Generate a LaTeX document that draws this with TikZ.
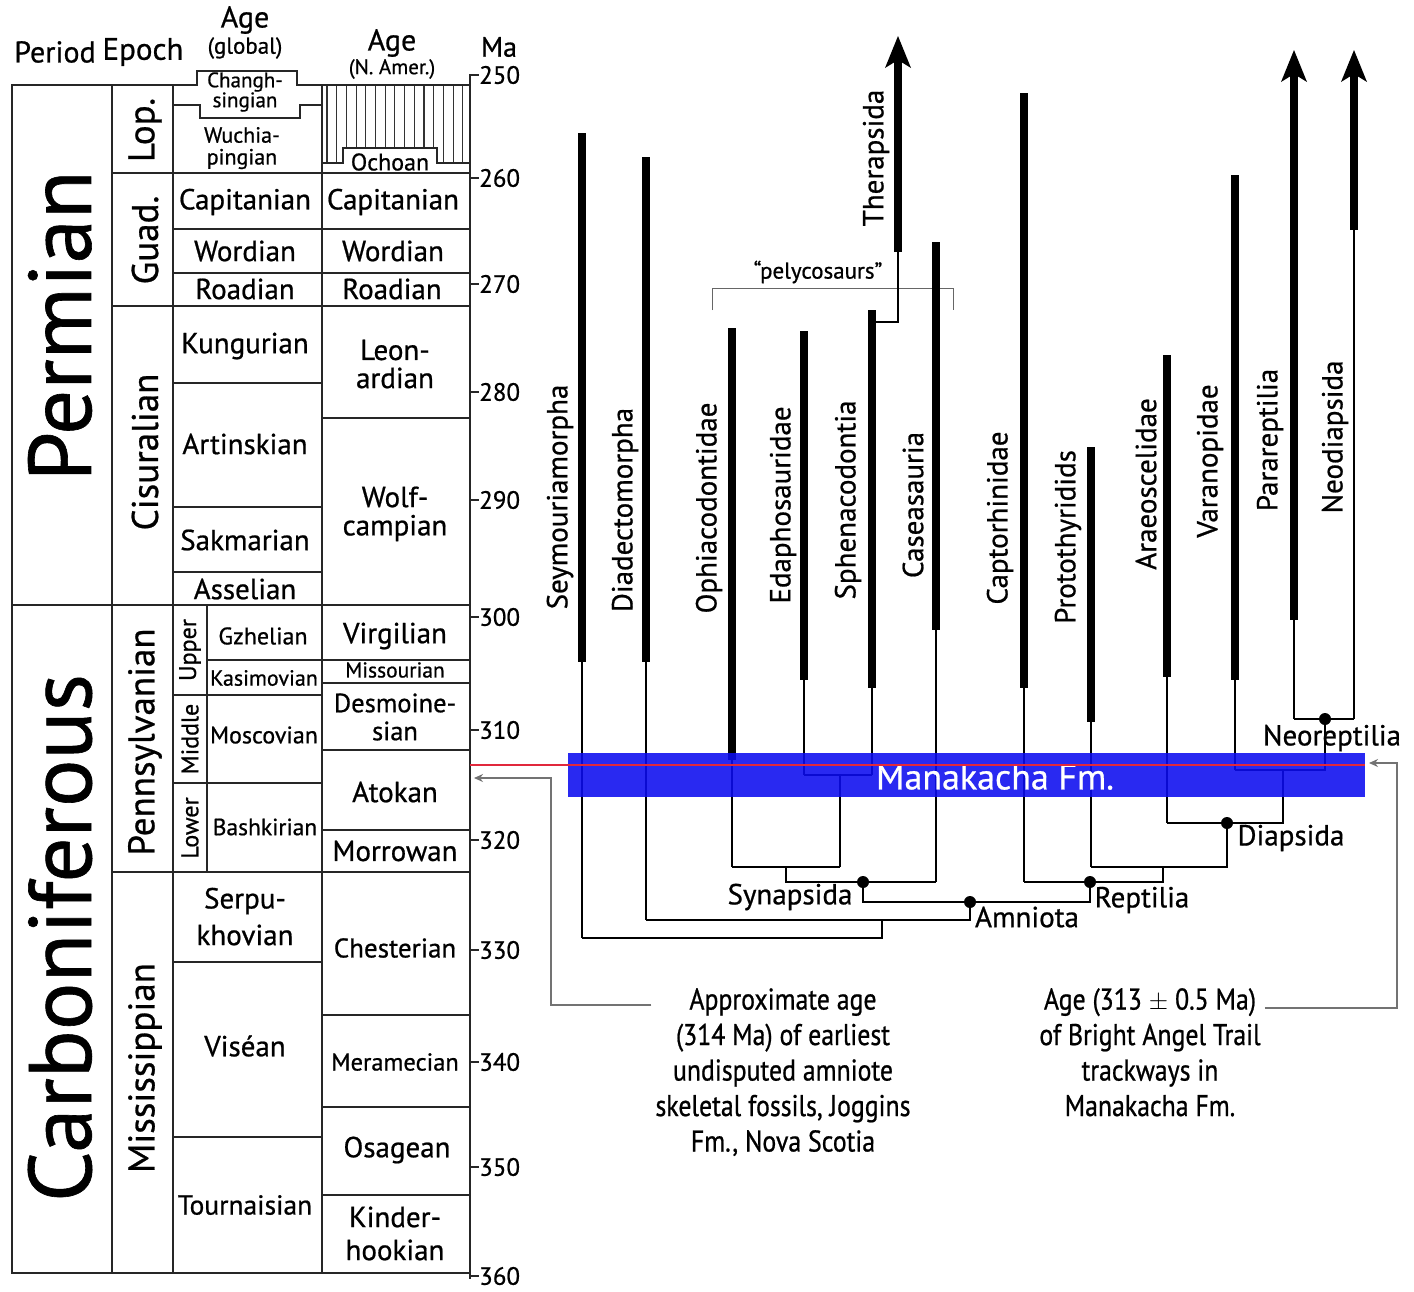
\documentclass[tikz,border=0pt]{standalone}
\usepackage{fontspec}
\setmainfont{PT Sans}[FakeBold=0.7]
\newfontfamily\cond{PT Sans}[FakeStretch=0.86,FakeBold=0.7]
\usetikzlibrary{arrows.meta}
\definecolor{bandblue}{RGB}{12,12,240}
\definecolor{redline}{RGB}{225,40,60}
\tikzset{
  tbl/.style={line width=1.8pt, black!85, line cap=rect},
  hatch/.style={line width=1.1pt, black!80},
  fs/.style={font=\fontsize{#1}{#1}\selectfont, inner sep=0pt},
  age/.style={fs=29},
  taxon/.style={fs=29, rotate=90},
  clade/.style={fs=29},
  bar/.style={line width=8pt, black},
  br/.style={line width=2.4pt, black},
  dot/.style={circle, fill=black, minimum size=12pt, inner sep=0pt},
  callout/.style={line width=1.3pt, black!55},
  note/.style={font=\cond\fontsize{30}{35.5}\selectfont, align=center, inner sep=0pt},
}
\newcommand{\arrowtip}[2]{\fill (#1,#2) -- (#1+13,#2+32) -- (#1,#2+24) -- (#1-13,#2+32) -- cycle;}
\begin{document}
\begin{tikzpicture}[x=1pt,y=-1pt]
\useasboundingbox[fill=white] (0,0) rectangle (1414,1291);

% ---------- headers ----------
\node[fs=30] (hper) at (55,52) {Period};
\node[fs=31] (hepo) at (143,52) {Epoch};
\node[fs=30] (hage1) at (245,20) {Age};
\node[fs=23] (hage1b) at (245,48) {(global)};
\node[fs=30] (hage2) at (392,43) {Age};
\node[fs=21] (hage2b) at (392,69) {(N. Amer.)};
\node[fs=28] (hma) at (499,47) {Ma};

% ---------- Ochoan hatching ----------
\foreach \i in {0,...,14}{
  \pgfmathsetmacro{\xx}{327+\i*9.7}
  \pgfmathsetmacro{\yb}{(\xx>343 && \xx<437) ? 148 : 163}
  \draw[hatch] (\xx,85) -- (\xx,\yb);
}
\draw[tbl] (322,163) -- (343,163) -- (343,148) -- (437,148) -- (437,163) -- (470,163);

% ---------- table frame ----------
\draw[tbl] (12,85) -- (12,1273) -- (470,1273);
\draw[tbl] (112,85) -- (112,1273);
\draw[tbl] (173,85) -- (173,1273);
\draw[tbl] (322,85) -- (322,1273);
\draw[tbl] (207,605) -- (207,872);
\draw[tbl] (470,77) -- (470,1278);
\draw[tbl] (12,85) -- (197,85) -- (197,71) -- (297,71) -- (297,85) -- (470,85);
\draw[tbl] (173,105) -- (200,105) -- (200,118) -- (300,118) -- (300,105) -- (322,105);
\draw[tbl] (12,605) -- (470,605);
\foreach \y in {173,306,872}{\draw[tbl] (112,\y) -- (470,\y);}
\foreach \y in {229,273}{\draw[tbl] (173,\y) -- (470,\y);}
\foreach \y in {383,507,572,695,783,962,1137}{\draw[tbl] (173,\y) -- (322,\y);}
\draw[tbl] (207,660) -- (470,660);
\foreach \y in {418,683,750,830,1015,1107,1195}{\draw[tbl] (322,\y) -- (470,\y);}

% ---------- Ma axis ----------
\foreach \v/\y in {250/75,260/178,270/284,280/392,290/500,300/617,310/730,320/840,330/950,340/1062,350/1167,360/1276}{
  \draw[tbl] (470,\y) -- (478,\y);
  \node[fs=25, anchor=west] at (479,\y) {\v};
}

% ---------- periods / epochs ----------
\node[fs=89, rotate=90] (perm) at (60,326) {Permian};
\node[fs=89, rotate=90] (carb) at (60,938) {Carboniferous};
\node[fs=37, rotate=90] (lop) at (145,130) {Lop.};
\node[fs=37, rotate=90] (guad) at (145,240) {Guad.};
\node[fs=37, rotate=90] (cis) at (145,452) {Cisuralian};
\node[fs=37, rotate=90] (penn) at (145,742) {Pennsylvanian};
\node[fs=37, rotate=90] (miss) at (145,1068) {Mississippian};
\node[fs=24, rotate=90] (upper) at (190,650) {Upper};
\node[fs=24, rotate=90] (middle) at (190,739) {Middle};
\node[fs=24, rotate=90] (lower) at (190,828) {Lower};

% ---------- global ages ----------
\node[fs=21] (chang1) at (245,82) {Changh-};
\node[fs=21] (chang2) at (245,102) {singian};
\node[fs=22] (wuch1) at (242,135) {Wuchia-};
\node[fs=22] (wuch2) at (242,159) {pingian};
\node[age] (capg) at (245,202) {Capitanian};
\node[age] (word) at (245,251) {Wordian};
\node[age] (road) at (245,289) {Roadian};
\node[age] (kung) at (245,346) {Kungurian};
\node[age] (arti) at (245,444) {Artinskian};
\node[age] (sakm) at (245,540) {Sakmarian};
\node[age] (asse) at (245,589) {Asselian};
\node[fs=24] (gzhe) at (263,636) {Gzhelian};
\node[fs=22] (kasi) at (264,678) {Kasimovian};
\node[fs=24] (mosc) at (264,735) {Moscovian};
\node[fs=23.5] (bash) at (265,827) {Bashkirian};
\node[age] (serp1) at (245,901) {Serpu-};
\node[age] (serp2) at (245,935) {khovian};
\node[age] (vise) at (245,1046) {Viséan};
\node[fs=27.5] (tour) at (245,1205) {Tournaisian};

% ---------- N. American ages ----------
\node[fs=24] (ocho) at (390,162) {Ochoan};
\node[age] (capn) at (393,202) {Capitanian};
\node[age] (wordn) at (393,251) {Wordian};
\node[age] (roadn) at (392,289) {Roadian};
\node[age] (leon1) at (395,350) {Leon-};
\node[age] (leon2) at (395,378) {ardian};
\node[age] (wolf1) at (395,497) {Wolf-};
\node[age] (wolf2) at (395,528) {campian};
\node[age] (virg) at (395,636) {Virgilian};
\node[fs=21.5] (miso) at (395,670) {Missourian};
\node[fs=26.5] (desm1) at (395,703) {Desmoine-};
\node[fs=26.5] (desm2) at (395,731) {sian};
\node[age] (atok) at (395,792) {Atokan};
\node[age] (morr) at (395,851) {Morrowan};
\node[fs=27] (ches) at (395,948) {Chesterian};
\node[fs=24.5] (mera) at (395,1062) {Meramecian};
\node[age] (osag) at (397,1150) {Osagean};
\node[age] (kind1) at (395,1217) {Kinder-};
\node[age] (kind2) at (395,1250) {hookian};

% ---------- pelycosaurs bracket ----------
\draw[line width=0.9pt, black!60] (712,310) -- (712,288) -- (953,288) -- (953,310);
\node[fs=23, fill=white, inner sep=2pt] (pely) at (818,272) {``pelycosaurs''};

% ---------- lineage bars ----------
\coordinate (sey) at (582,938);
\coordinate (dia) at (646,920);
\coordinate (oph) at (732,867);
\coordinate (eda) at (804,775);
\coordinate (sph) at (872,775);
\coordinate (cas) at (936,882);
\coordinate (cap) at (1024,882);
\coordinate (pro) at (1091,867);
\coordinate (ara) at (1167,823);
\coordinate (var) at (1235,770);
\coordinate (par) at (1294,719);
\coordinate (neo) at (1354,719);

\draw[bar] (582,133) -- (582,662);  \draw[br] (582,662) -- (sey);
\draw[bar] (646,157) -- (646,662);  \draw[br] (646,662) -- (dia);
\draw[bar] (732,328) -- (732,760);  \draw[br] (732,760) -- (oph);
\draw[bar] (804,331) -- (804,680);  \draw[br] (804,680) -- (eda);
\draw[bar] (872,310) -- (872,688);  \draw[br] (872,688) -- (sph);
\draw[bar] (936,242) -- (936,630);  \draw[br] (936,630) -- (cas);
\draw[bar] (1024,93) -- (1024,688); \draw[br] (1024,688) -- (cap);
\draw[bar] (1091,447) -- (1091,722); \draw[br] (1091,722) -- (pro);
\draw[bar] (1167,355) -- (1167,677); \draw[br] (1167,677) -- (ara);
\draw[bar] (1235,175) -- (1235,680); \draw[br] (1235,680) -- (var);
\draw[bar] (1294,70) -- (1294,620); \draw[br] (1294,620) -- (par);
\draw[bar] (1354,70) -- (1354,230); \draw[br] (1354,230) -- (neo);
\arrowtip{1294}{50}
\arrowtip{1354}{50}
% Therapsida
\draw[br] (872,322) -- (898,322) -- (898,252);
\draw[bar] (898,252) -- (898,58);
\arrowtip{898}{36}

% ---------- tree connections ----------
\node[dot] (synd) at (863,882) {};
\node[dot] (amnd) at (970,902) {};
\node[dot] (repd) at (1090,882) {};
\node[dot] (diad) at (1227,823) {};
\node[dot] (neod) at (1325,719) {};

\draw[br] (eda) -- (sph);
\draw[br] (840,775) -- (840,867);
\draw[br] (oph) -- (840,867);
\draw[br] (786,867) -- (786,882) -- (cas);
\draw[br] (synd) -- (863,902) -- (amnd);
\draw[br] (dia) -- (970,920) -- (amnd);
\draw[br] (sey) -- (882,938) -- (882,920);
\draw[br] (amnd) -- (1090,902) -- (repd);
\draw[br] (cap) -- (1163,882) -- (1163,867);
\draw[br] (pro) -- (1227,867) -- (diad);
\draw[br] (ara) -- (1283,823) -- (1283,770);
\draw[br] (var) -- (1325,770) -- (neod);
\draw[br] (par) -- (neo);

% ---------- Manakacha band ----------
\fill[bandblue, fill opacity=0.88] (568,753) rectangle (1365,797);
\node[fs=36, text=white] (mana) at (995,777) {Manakacha Fm.};
\draw[redline, line width=1.3pt] (470,765) -- (1365,765);

% ---------- taxon labels ----------
\node[taxon] (tsey) at (560,497) {Seymouriamorpha};
\node[taxon] (tdia) at (625,510) {Diadectomorpha};
\node[taxon] (toph) at (709,508) {Ophiacodontidae};
\node[taxon] (teda) at (783,505) {Edaphosauridae};
\node[taxon] (tsph) at (848,500) {Sphenacodontia};
\node[taxon] (tcas) at (913,505) {Caseasauria};
\node[taxon] (tthe) at (876,158) {Therapsida};
\node[taxon] (tcap) at (1000,518) {Captorhinidae};
\node[taxon] (tpro) at (1068,537) {Protothyridids};
\node[taxon] (tara) at (1146,484) {Araeoscelidae};
\node[taxon] (tvar) at (1210,461) {Varanopidae};
\node[taxon] (tpar) at (1270,440) {Parareptilia};
\node[taxon] (tneo) at (1335,437) {Neodiapsida};

% ---------- clade labels ----------
\node[clade] (lsyn) at (790,897) {Synapsida};
\node[clade] (lamn) at (1027,917) {Amniota};
\node[clade] (lrep) at (1142,900) {Reptilia};
\node[clade] (ldia) at (1291,838) {Diapsida};
\node[clade] (lneo) at (1332,738) {Neoreptilia};

% ---------- notes and callouts ----------
\node[note, anchor=north] (n1) at (783,988) {Approximate age\\(314 Ma) of earliest\\undisputed amniote\\skeletal fossils, Joggins\\Fm., Nova Scotia};
\node[note, anchor=north] (n2) at (1150,988) {Age (313 $\pm$ 0.5 Ma)\\of Bright Angel Trail\\trackways in\\Manakacha Fm.};
\coordinate (c1) at (551,1005);
\coordinate (c1t) at (474,778);
\coordinate (c2) at (1397,1008);
\coordinate (c2t) at (1369,763);
\draw[callout, -{Stealth[length=9pt,width=8pt]}] (n1.north west |- c1) ++(-4,0) -- (c1) |- (c1t);
\draw[callout, -{Stealth[length=9pt,width=8pt]}] (n2.north east |- c2) ++(4,0) -- (c2) |- (c2t);
\end{tikzpicture}
\end{document}
